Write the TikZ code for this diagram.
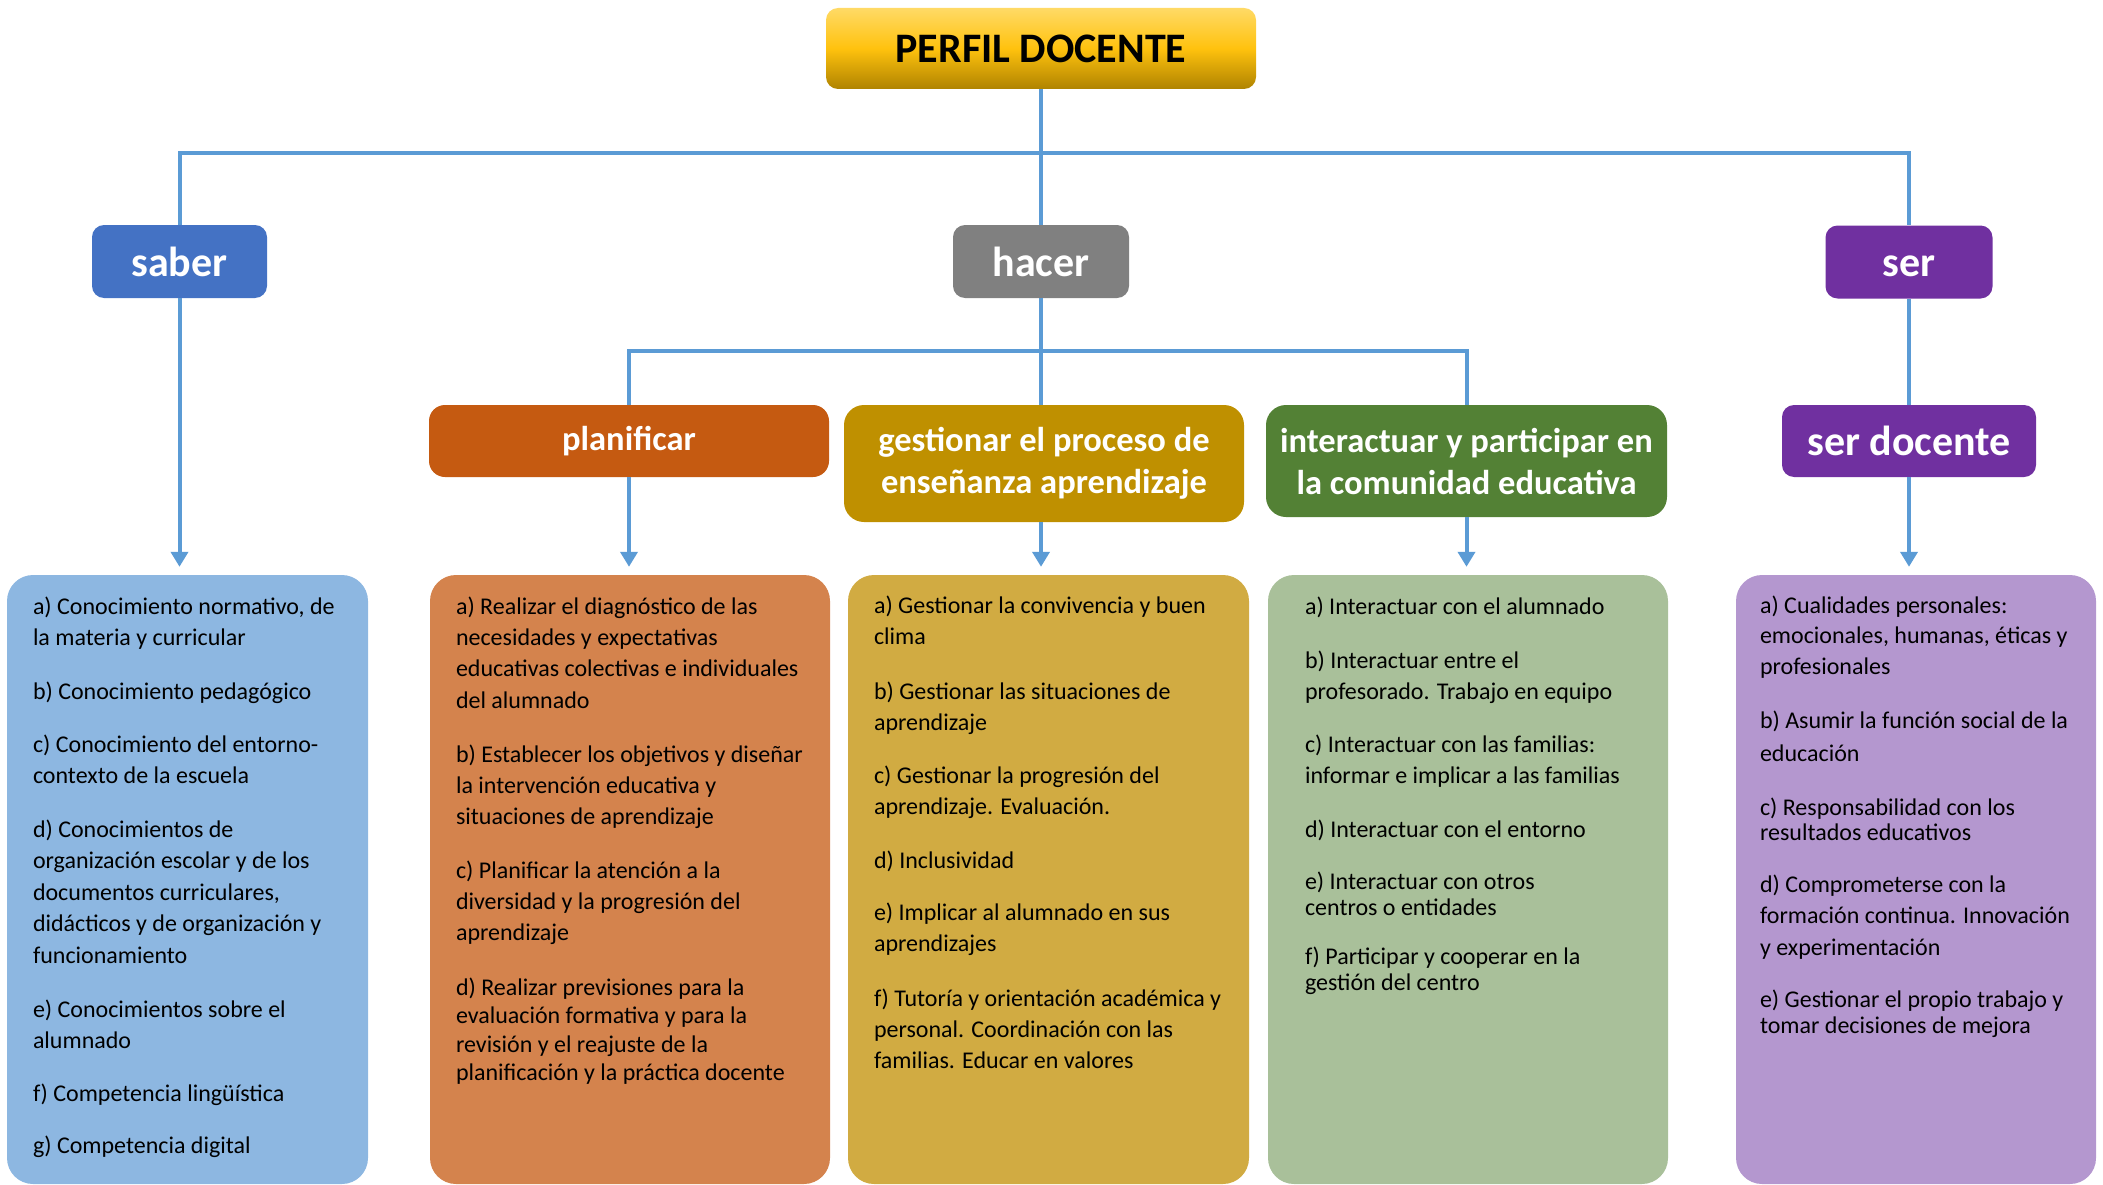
\documentclass[tikz,border=0pt]{standalone}
\usepackage{fontspec}
\setmainfont{Carlito}
\usetikzlibrary{arrows.meta}
\definecolor{conn}{HTML}{5B9BD5}
\definecolor{saberc}{HTML}{4472C4}
\definecolor{hacerc}{HTML}{808080}
\definecolor{serc}{HTML}{7030A0}
\definecolor{planc}{HTML}{C55A11}
\definecolor{gestc}{HTML}{BF9000}
\definecolor{interc}{HTML}{538135}
\definecolor{sabert}{HTML}{8DB7E1}
\definecolor{plant}{HTML}{D4834D}
\definecolor{gestt}{HTML}{D1AB42}
\definecolor{intert}{HTML}{A9C09A}
\definecolor{sert}{HTML}{B497CF}
\definecolor{ytop}{HTML}{FFDA66}
\definecolor{ymid}{HTML}{FFC20E}
\definecolor{ybot}{HTML}{AF8300}
\tikzset{
  hbox/.style={rounded corners=12pt, inner sep=0pt, text=white, align=center,
    text height=29pt, text depth=0pt,
    font=\fontsize{42}{50}\selectfont\bfseries},
  lbox/.style={rounded corners=16pt, inner sep=0pt, text=white, align=center,
    font=\fontsize{34.5}{42}\selectfont\bfseries},
  tbox/.style={rounded corners=26pt, inner sep=0pt},
  para/.style={inner sep=0pt, outer sep=0pt, align=left, anchor=base west,
    font=\fontsize{24}{#1}\selectfont},
  para/.default=31,
  link/.style={draw=conn, line width=4pt},
  arr/.style={draw=conn, line width=4pt, -{Triangle[length=15pt,width=17pt]}, shorten >=8pt}
}
\begin{document}
\begin{tikzpicture}[x=1pt,y=-1pt]
\useasboundingbox (0,0) rectangle (2103,1185);

% text boxes (drawn first)
\node[tbox, fill=sabert, minimum width=361pt, minimum height=609pt] (sabtxt) at (187.5,879.5) {};
\node[tbox, fill=plant, minimum width=400pt, minimum height=609pt] (plantxt) at (630,879.5) {};
\node[tbox, fill=gestt, minimum width=401pt, minimum height=609pt] (gesttxt) at (1048.5,879.5) {};
\node[tbox, fill=intert, minimum width=400pt, minimum height=609pt] (intertxt) at (1468,879.5) {};
\node[tbox, fill=sert, minimum width=360pt, minimum height=609pt] (sertxt) at (1916,879.5) {};

% header nodes
\node[hbox, text=black, top color=ytop, bottom color=ybot, middle color=ymid,
  minimum width=430pt, minimum height=81pt] (perfil) at (1041,48.5) {PERFIL DOCENTE};
\node[hbox, fill=saberc, minimum width=175pt, minimum height=73pt] (saber) at (179.5,261.5) {saber};
\node[hbox, fill=hacerc, minimum width=176pt, minimum height=73pt] (hacer) at (1041,261.5) {hacer};
\node[hbox, fill=serc, minimum width=167pt, minimum height=73pt] (ser) at (1909,262) {ser};

\node[lbox, fill=planc, minimum width=400pt, minimum height=72pt] (plan) at (629,441) {planificar};
\node[lbox, fill=gestc, minimum width=400pt, minimum height=117pt, rounded corners=20pt] (gest) at (1044,463.5) {gestionar el proceso de\\enseñanza aprendizaje};
\node[lbox, fill=interc, minimum width=401pt, minimum height=112pt, rounded corners=20pt] (inter) at (1466.5,461) {interactuar y participar en\\la comunidad educativa};
\node[hbox, fill=serc, minimum width=254pt, minimum height=72pt] (serdoc) at (1909,441) {ser docente};

% connectors level 1
\coordinate (bar1) at (0,153);
\draw[link] (perfil.south) -- (hacer.north);
\draw[link] (saber.north) |- (perfil.south |- bar1) -| (ser.north);
% level 2
\coordinate (bar2) at (0,351);
\draw[link] (hacer.south) -- (hacer.south |- gest.north);
\draw[link] (plan.north) |- (hacer.south |- bar2) -| (inter.north);
\draw[link] (ser.south) -- (serdoc.north);
% arrows to text boxes
\draw[arr] (saber.south) -- (saber.south |- sabtxt.north);
\draw[arr] (plan.south) -- (plan.south |- plantxt.north);
\draw[arr] (hacer.south |- gest.south) -- (hacer.south |- gesttxt.north);
\draw[arr] (inter.south) -- (inter.south |- intertxt.north);
\draw[arr] (serdoc.south) -- (serdoc.south |- sertxt.north);

% saber texts (anchor = baseline of last line)
\node[para] (sa) at (33,645) {a) Conocimiento normativo, de\\la materia y curricular};
\node[para] (sb) at (33,699) {b) Conocimiento pedagógico};
\node[para] (sc) at (33,783) {c) Conocimiento del entorno-\\contexto de la escuela};
\node[para=31.5] (sd) at (33,963) {d) Conocimientos de\\organización escolar y de los\\documentos curriculares,\\didácticos y de organización y\\funcionamiento};
\node[para] (se) at (33,1048) {e) Conocimientos sobre el\\alumnado};
\node[para] (sf) at (33,1101) {f) Competencia lingüística};
\node[para] (sg) at (33,1153) {g) Competencia digital};

% planificar texts
\node[para=31.3] (pa) at (456,708) {a) Realizar el diagnóstico de las\\necesidades y expectativas\\educativas colectivas e individuales\\del alumnado};
\node[para=31.3] (pb) at (456,824.6) {b) Establecer los objetivos y diseñar\\la intervención educativa y\\situaciones de aprendizaje};
\node[para=31.3] (pc) at (456,940.6) {c) Planificar la atención a la\\diversidad y la progresión del\\aprendizaje};
\node[para=28.6] (pd) at (456,1080.8) {d) Realizar previsiones para la\\evaluación formativa y para la\\revisión y el reajuste de la\\planificación y la práctica docente};

% gestionar texts
\node[para=31.5] (ga) at (874,644.5) {a) Gestionar la convivencia y buen\\clima};
\node[para] (gb) at (874,730) {b) Gestionar las situaciones de\\aprendizaje};
\node[para] (gc) at (874,814) {c) Gestionar la progresión del\\aprendizaje. Evaluación.};
\node[para] (gd) at (874,868) {d) Inclusividad};
\node[para] (ge) at (874,951) {e) Implicar al alumnado en sus\\aprendizajes};
\node[para] (gf) at (874,1068) {f) Tutoría y orientación académica y\\personal. Coordinación con las\\familias. Educar en valores};

% interactuar texts
\node[para] (ia) at (1305,614) {a) Interactuar con el alumnado};
\node[para] (ib) at (1305,699) {b) Interactuar entre el\\profesorado. Trabajo en equipo};
\node[para] (ic) at (1305,783) {c) Interactuar con las familias:\\informar e implicar a las familias};
\node[para] (id) at (1305,837) {d) Interactuar con el entorno};
\node[para=26.8] (ie) at (1305,915.8) {e) Interactuar con otros\\centros o entidades};
\node[para=26.8] (if) at (1305,990.8) {f) Participar y cooperar en la\\gestión del centro};

% ser docente texts
\node[para=30.8] (ra) at (1760,674.6) {a) Cualidades personales:\\emocionales, humanas, éticas y\\profesionales};
\node[para=33.5] (rb) at (1760,761.5) {b) Asumir la función social de la\\educación};
\node[para=25.5] (rc) at (1760,840.5) {c) Responsabilidad con los\\resultados educativos};
\node[para=31.5] (rd) at (1760,955) {d) Comprometerse con la\\formación continua. Innovación\\y experimentación};
\node[para=26.8] (re) at (1760,1033.8) {e) Gestionar el propio trabajo y\\tomar decisiones de mejora};
\end{tikzpicture}
\end{document}
